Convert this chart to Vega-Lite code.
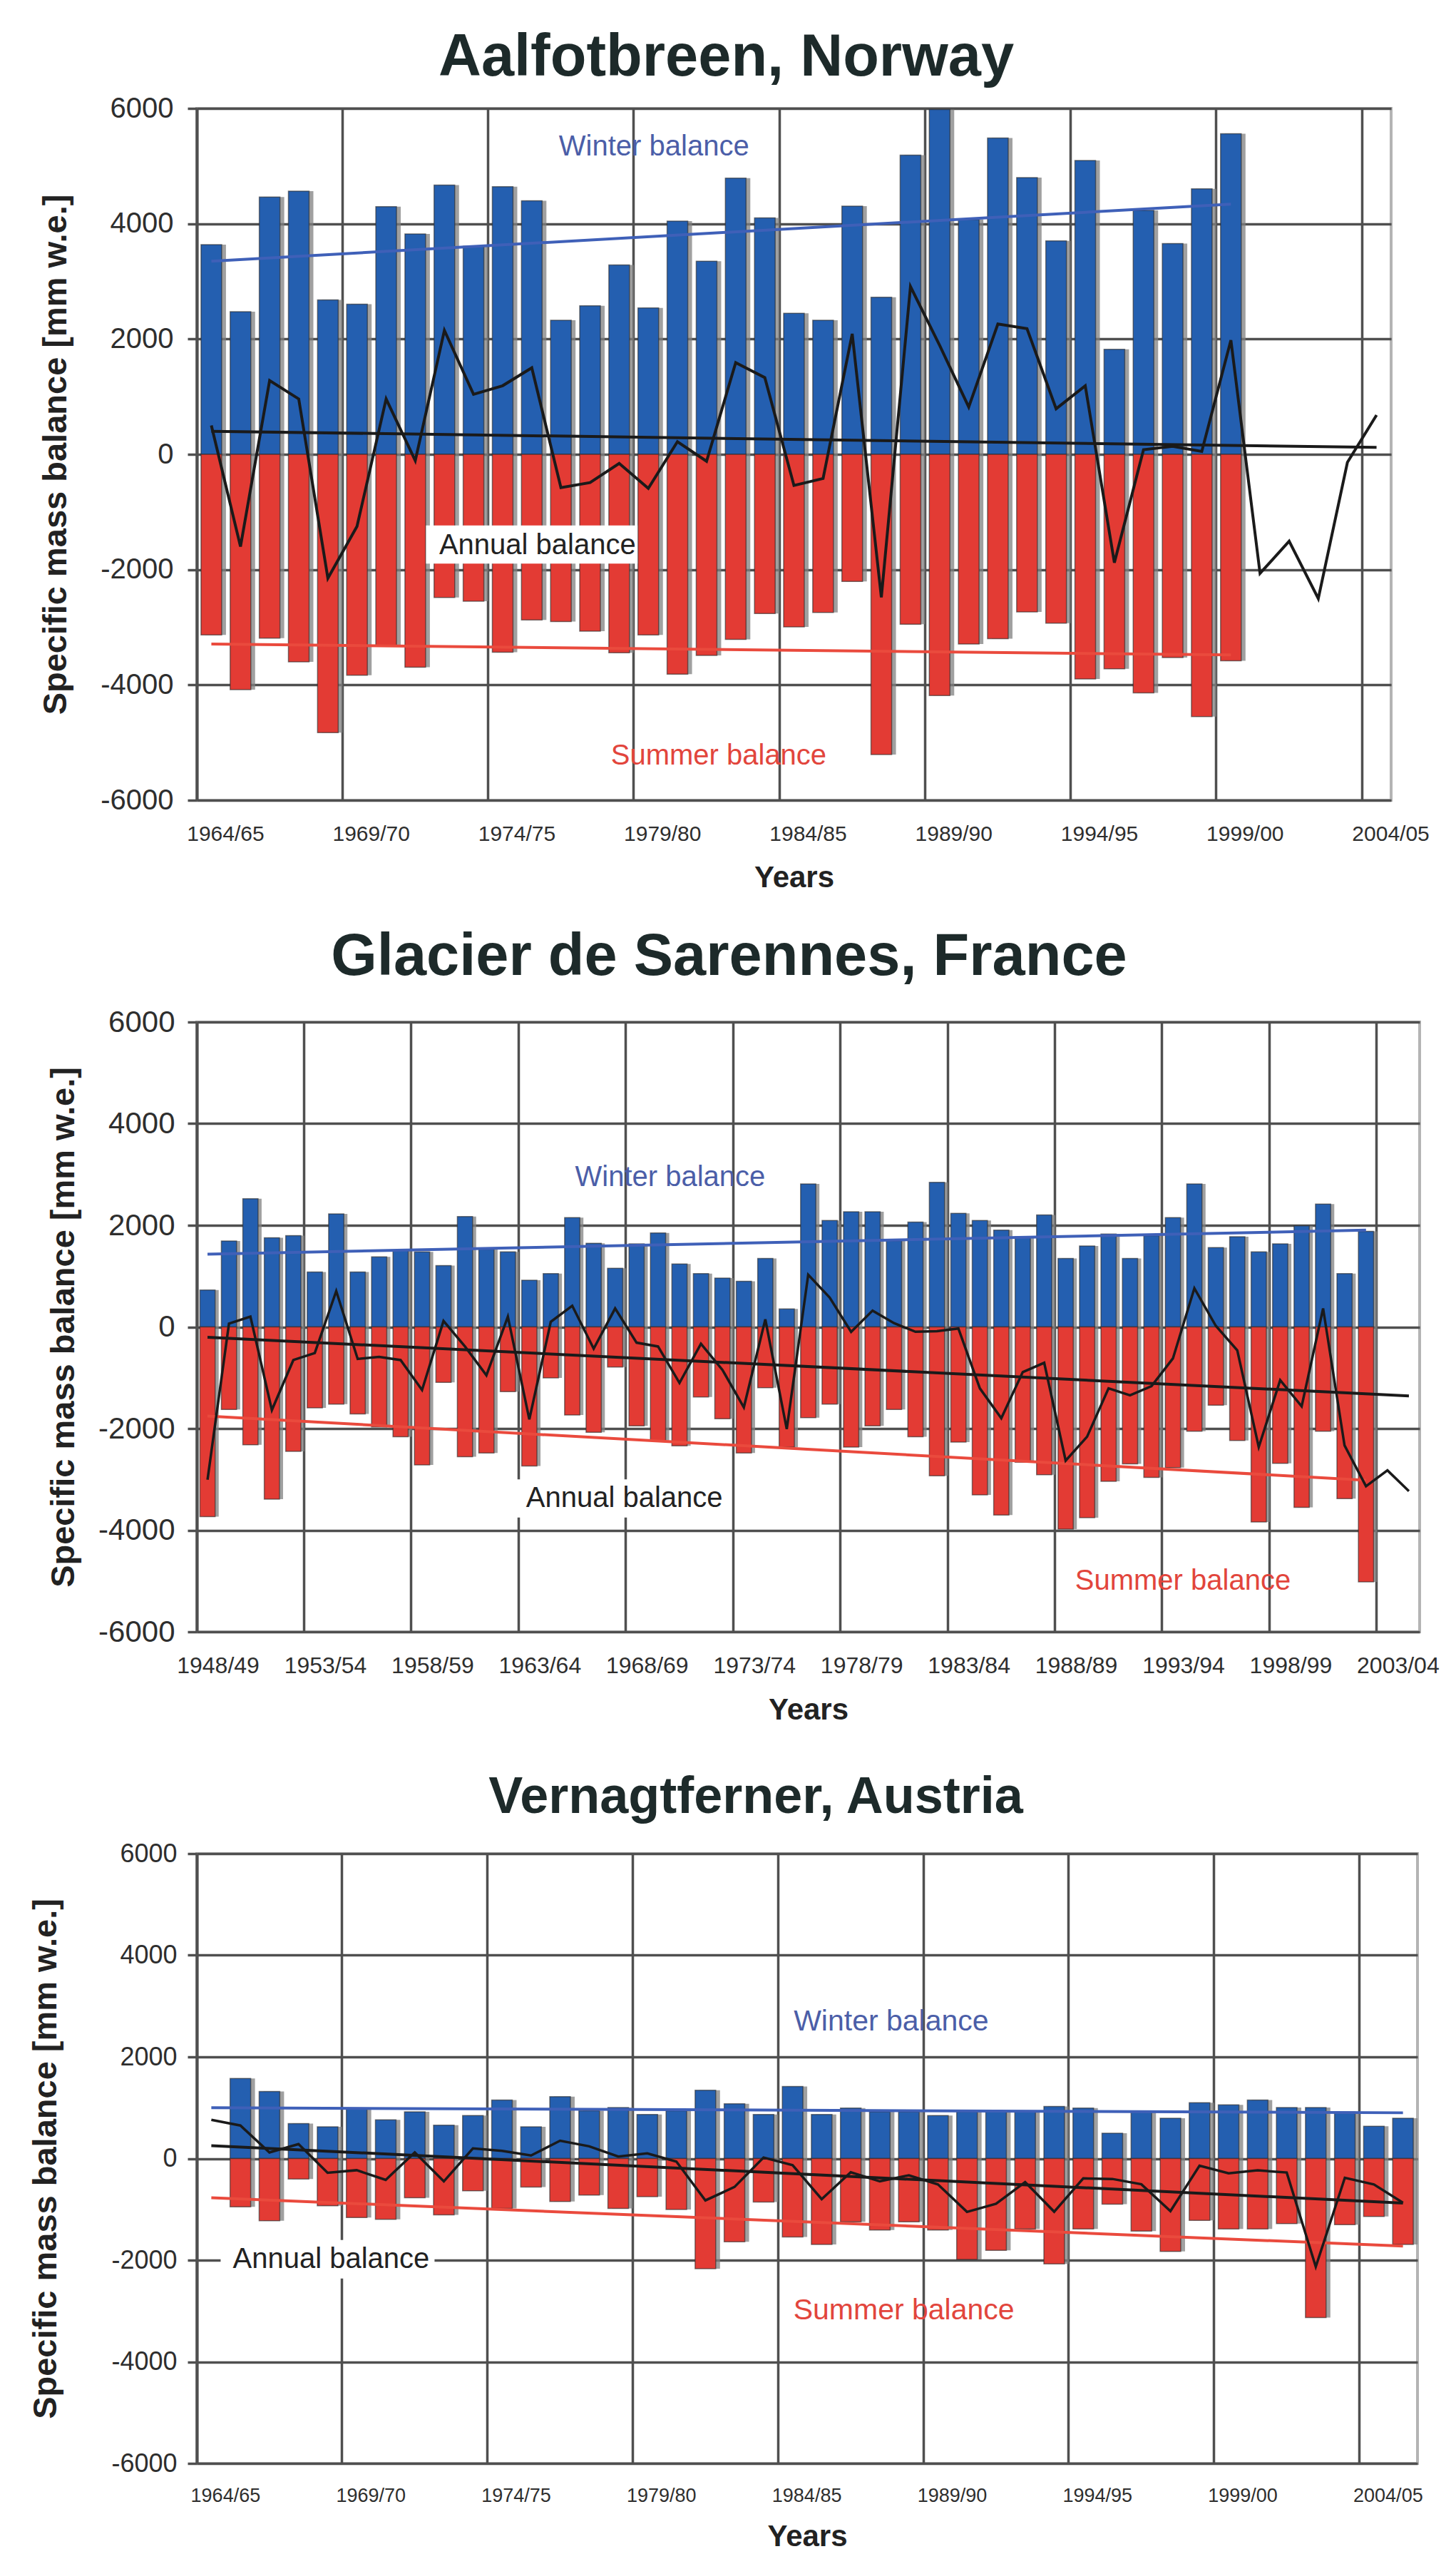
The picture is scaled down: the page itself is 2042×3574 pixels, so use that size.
{
"$schema": "https://vega.github.io/schema/vega-lite/v6.json",
"background": "white",
"padding": {"left": 38, "top": 38, "right": 10, "bottom": 0},
"bounds": "flush",
"spacing": 311,
"config": {
 "font": "Liberation Sans",
 "view": {"stroke": "#b4b4b4", "strokeWidth": 4},
 "axis": {"gridColor": "#4f4f4f", "gridWidth": 3.5, "gridOpacity": 1, "labelColor": "#2e2e2e", "titleColor": "#222222", "titleFontWeight": "bold", "domainColor": "#4f4f4f", "tickColor": "#4f4f4f"}
},
"datasets": {
 "aal": [
  {"y":"1964/65","w":3636,"s":-3134,"a":500},
  {"y":"1965/66","w":2474,"s":-4083,"a":-1600},
  {"y":"1966/67","w":4464,"s":-3190,"a":1280},
  {"y":"1967/68","w":4566,"s":-3600,"a":960},
  {"y":"1968/69","w":2678,"s":-4827,"a":-2150},
  {"y":"1969/70","w":2604,"s":-3832,"a":-1250},
  {"y":"1970/71","w":4297,"s":-3320,"a":960},
  {"y":"1971/72","w":3822,"s":-3692,"a":-110},
  {"y":"1972/73","w":4669,"s":-2483,"a":2150},
  {"y":"1973/74","w":3608,"s":-2548,"a":1040},
  {"y":"1974/75","w":4641,"s":-3432,"a":1190},
  {"y":"1975/76","w":4399,"s":-2874,"a":1500},
  {"y":"1976/77","w":2325,"s":-2902,"a":-577},
  {"y":"1977/78","w":2576,"s":-3069,"a":-490},
  {"y":"1978/79","w":3283,"s":-3441,"a":-158},
  {"y":"1979/80","w":2539,"s":-3134,"a":-590},
  {"y":"1980/81","w":4046,"s":-3813,"a":220},
  {"y":"1981/82","w":3348,"s":-3488,"a":-120},
  {"y":"1982/83","w":4790,"s":-3209,"a":1590},
  {"y":"1983/84","w":4101,"s":-2762,"a":1330},
  {"y":"1984/85","w":2446,"s":-2995,"a":-540},
  {"y":"1985/86","w":2325,"s":-2744,"a":-420},
  {"y":"1986/87","w":4306,"s":-2204,"a":2090},
  {"y":"1987/88","w":2725,"s":-5208,"a":-2480},
  {"y":"1988/89","w":5189,"s":-2948,"a":2910},
  {"y":"1989/90","w":5980,"s":-4185,"a":1890},
  {"y":"1990/91","w":4073,"s":-3292,"a":820},
  {"y":"1991/92","w":5487,"s":-3199,"a":2260},
  {"y":"1992/93","w":4799,"s":-2734,"a":2180},
  {"y":"1993/94","w":3701,"s":-2930,"a":790},
  {"y":"1994/95","w":5096,"s":-3897,"a":1190},
  {"y":"1995/96","w":1823,"s":-3720,"a":-1880},
  {"y":"1996/97","w":4232,"s":-4139,"a":80},
  {"y":"1997/98","w":3655,"s":-3525,"a":140},
  {"y":"1998/99","w":4604,"s":-4548,"a":50},
  {"y":"1999/00","w":5561,"s":-3581,"a":1980},
  {"y":"2000/01","a":-2065},
  {"y":"2001/02","a":-1507},
  {"y":"2002/03","a":-2502},
  {"y":"2003/04","a":-140},
  {"y":"2004/05","a":680}
 ],
 "aalT": [
  {"y":"1964/65","k":"w","v":3350},{"y":"1999/00","k":"w","v":4340},
  {"y":"1964/65","k":"s","v":-3290},{"y":"1999/00","k":"s","v":-3480},
  {"y":"1964/65","k":"a","v":400},{"y":"2004/05","k":"a","v":120}
 ],
 "sar": [
  {"y":"1948/49","w":727,"s":-3733,"a":-3006},
  {"y":"1949/50","w":1690,"s":-1626,"a":64},
  {"y":"1950/51","w":2524,"s":-2321,"a":203},
  {"y":"1951/52","w":1754,"s":-3390,"a":-1636},
  {"y":"1952/53","w":1797,"s":-2449,"a":-652},
  {"y":"1953/54","w":1080,"s":-1594,"a":-514},
  {"y":"1954/55","w":2225,"s":-1519,"a":706},
  {"y":"1955/56","w":1080,"s":-1711,"a":-631},
  {"y":"1956/57","w":1380,"s":-1968,"a":-588},
  {"y":"1957/58","w":1508,"s":-2160,"a":-652},
  {"y":"1958/59","w":1476,"s":-2717,"a":-1241},
  {"y":"1959/60","w":1208,"s":-1091,"a":117},
  {"y":"1960/61","w":2171,"s":-2556,"a":-385},
  {"y":"1961/62","w":1529,"s":-2481,"a":-952},
  {"y":"1962/63","w":1476,"s":-1273,"a":203},
  {"y":"1963/64","w":920,"s":-2738,"a":-1818},
  {"y":"1964/65","w":1048,"s":-1005,"a":100},
  {"y":"1965/66","w":2150,"s":-1733,"a":417},
  {"y":"1966/67","w":1647,"s":-2075,"a":-428},
  {"y":"1967/68","w":1155,"s":-791,"a":364},
  {"y":"1968/69","w":1636,"s":-1946,"a":-310},
  {"y":"1969/70","w":1850,"s":-2235,"a":-385},
  {"y":"1970/71","w":1240,"s":-2342,"a":-1102},
  {"y":"1971/72","w":1048,"s":-1380,"a":-332},
  {"y":"1972/73","w":963,"s":-1807,"a":-844},
  {"y":"1973/74","w":898,"s":-2481,"a":-1583},
  {"y":"1974/75","w":1348,"s":-1198,"a":150},
  {"y":"1975/76","w":353,"s":-2364,"a":-2011},
  {"y":"1976/77","w":2813,"s":-1786,"a":1027},
  {"y":"1977/78","w":2096,"s":-1519,"a":577},
  {"y":"1978/79","w":2267,"s":-2364,"a":-97},
  {"y":"1979/80","w":2267,"s":-1946,"a":321},
  {"y":"1980/81","w":1700,"s":-1626,"a":74},
  {"y":"1981/82","w":2064,"s":-2160,"a":-96},
  {"y":"1982/83","w":2845,"s":-2930,"a":-85},
  {"y":"1983/84","w":2235,"s":-2267,"a":-32},
  {"y":"1984/85","w":2096,"s":-3305,"a":-1209},
  {"y":"1985/86","w":1904,"s":-3700,"a":-1796},
  {"y":"1986/87","w":1775,"s":-2663,"a":-888},
  {"y":"1987/88","w":2203,"s":-2909,"a":-706},
  {"y":"1988/89","w":1348,"s":-3979,"a":-2631},
  {"y":"1989/90","w":1594,"s":-3754,"a":-2160},
  {"y":"1990/91","w":1829,"s":-3037,"a":-1208},
  {"y":"1991/92","w":1348,"s":-2695,"a":-1347},
  {"y":"1992/93","w":1797,"s":-2963,"a":-1166},
  {"y":"1993/94","w":2150,"s":-2770,"a":-620},
  {"y":"1994/95","w":2813,"s":-2053,"a":760},
  {"y":"1995/96","w":1561,"s":-1540,"a":21},
  {"y":"1996/97","w":1775,"s":-2235,"a":-460},
  {"y":"1997/98","w":1476,"s":-3840,"a":-2364},
  {"y":"1998/99","w":1636,"s":-2684,"a":-1048},
  {"y":"1999/00","w":1989,"s":-3551,"a":-1562},
  {"y":"2000/01","w":2417,"s":-2053,"a":364},
  {"y":"2001/02","w":1048,"s":-3380,"a":-2332},
  {"y":"2002/03","w":1882,"s":-5016,"a":-3134},
  {"y":"2003/04","a":-2823},
  {"y":"2004/05","a":-3230}
 ],
 "sarT": [
  {"y":"1948/49","k":"w","v":1433},{"y":"2002/03","k":"w","v":1904},
  {"y":"1948/49","k":"s","v":-1754},{"y":"2002/03","k":"s","v":-3016},
  {"y":"1948/49","k":"a","v":-203},{"y":"2004/05","k":"a","v":-1358}
 ],
 "ver": [
  {"y":"1964/65","a":761},
  {"y":"1965/66","w":1575,"s":-951,"a":650},
  {"y":"1966/67","w":1321,"s":-1226,"a":120},
  {"y":"1967/68","w":687,"s":-402,"a":285},
  {"y":"1968/69","w":624,"s":-930,"a":-280},
  {"y":"1969/70","w":973,"s":-1163,"a":-230},
  {"y":"1970/71","w":761,"s":-1195,"a":-420},
  {"y":"1971/72","w":920,"s":-772,"a":120},
  {"y":"1972/73","w":655,"s":-1110,"a":-450},
  {"y":"1973/74","w":846,"s":-634,"a":200},
  {"y":"1974/75","w":1152,"s":-983,"a":150},
  {"y":"1975/76","w":624,"s":-560,"a":60},
  {"y":"1976/77","w":1216,"s":-846,"a":350},
  {"y":"1977/78","w":941,"s":-719,"a":240},
  {"y":"1978/79","w":1004,"s":-983,"a":40},
  {"y":"1979/80","w":867,"s":-751,"a":100},
  {"y":"1980/81","w":941,"s":-1004,"a":-60},
  {"y":"1981/82","w":1343,"s":-2167,"a":-824},
  {"y":"1982/83","w":1078,"s":-1639,"a":-560},
  {"y":"1983/84","w":867,"s":-856,"a":20},
  {"y":"1984/85","w":1417,"s":-1543,"a":-130},
  {"y":"1985/86","w":867,"s":-1691,"a":-800},
  {"y":"1986/87","w":994,"s":-1247,"a":-270},
  {"y":"1987/88","w":920,"s":-1406,"a":-450},
  {"y":"1988/89","w":920,"s":-1247,"a":-330},
  {"y":"1989/90","w":846,"s":-1406,"a":-510},
  {"y":"1990/91","w":920,"s":-1987,"a":-1050},
  {"y":"1991/92","w":920,"s":-1808,"a":-890},
  {"y":"1992/93","w":920,"s":-1385,"a":-465},
  {"y":"1993/94","w":1025,"s":-2072,"a":-1047},
  {"y":"1994/95","w":994,"s":-1385,"a":-391},
  {"y":"1995/96","w":497,"s":-899,"a":-402},
  {"y":"1996/97","w":920,"s":-1427,"a":-507},
  {"y":"1997/98","w":793,"s":-1829,"a":-1036},
  {"y":"1998/99","w":1099,"s":-1216,"a":-140},
  {"y":"1999/00","w":1057,"s":-1385,"a":-290},
  {"y":"2000/01","w":1152,"s":-1385,"a":-233},
  {"y":"2001/02","w":1004,"s":-1279,"a":-275},
  {"y":"2002/03","w":1004,"s":-3129,"a":-2130},
  {"y":"2003/04","w":920,"s":-1300,"a":-380},
  {"y":"2004/05","w":634,"s":-1142,"a":-510},
  {"y":"2005/06","w":793,"s":-1691,"a":-870}
 ],
 "verT": [
  {"y":"1964/65","k":"w","v":1000},{"y":"2005/06","k":"w","v":900},
  {"y":"1964/65","k":"s","v":-772},{"y":"2005/06","k":"s","v":-1723},
  {"y":"1964/65","k":"a","v":254},{"y":"2005/06","k":"a","v":-877}
 ]
},
"vconcat": [
 {
  "title": {"text": "Aalfotbreen, Norway", "fontSize": 83, "fontWeight": "bold", "color": "#1d2a2a", "anchor": "middle", "baseline": "alphabetic", "offset": -57, "dx": -95},
  "width": 1675, "height": 970,
  "encoding": {"x": {"field": "y", "type": "ordinal", "scale": {"type": "band", "paddingInner": 0, "paddingOuter": 0},
    "axis": {"title": "Years", "values": ["1964/65","1969/70","1974/75","1979/80","1984/85","1989/90","1994/95","1999/00","2004/05"], "bandPosition": 0, "grid": true, "ticks": false, "domain": false, "labelAngle": 0, "labelOffset": 20, "labelFontSize": 30, "labelPadding": 32, "titleFontSize": 42, "titlePadding": 26}}},
  "layer": [
   {"data": {"name": "aal"}, "mark": {"type": "bar", "width": {"band": 0.71}, "fill": "#808080", "opacity": 0.75, "xOffset": 6},
    "encoding": {"y": {"field": "w", "type": "quantitative", "title": "Specific mass balance [mm w.e.]"}, "y2": {"field": "s"}}},
   {"data": {"name": "aal"}, "mark": {"type": "bar", "width": {"band": 0.71}, "fill": "#245fb0", "stroke": "#2b2b2b", "strokeWidth": 1.5, "strokeOpacity": 0.6},
    "encoding": {"y": {"field": "w", "type": "quantitative", "title": "Specific mass balance [mm w.e.]", "scale": {"domain": [-6000, 6000], "nice": false, "zero": false},
      "axis": {"values": [-6000,-4000,-2000,0,2000,4000,6000], "labelExpr": "'' + datum.value", "grid": true, "domain": true, "domainWidth": 4, "ticks": true, "tickSize": 13, "tickWidth": 3.5, "labelFontSize": 40, "labelPadding": 20, "titleFontSize": 47, "titlePadding": 38}}}},
   {"data": {"name": "aal"}, "mark": {"type": "bar", "width": {"band": 0.71}, "fill": "#e33b34", "stroke": "#2b2b2b", "strokeWidth": 1.5, "strokeOpacity": 0.6},
    "encoding": {"y": {"field": "s", "type": "quantitative", "title": "Specific mass balance [mm w.e.]"}}},
   {"data": {"name": "aalT"}, "mark": {"type": "line", "strokeWidth": 4},
    "encoding": {"y": {"field": "v", "type": "quantitative", "title": "Specific mass balance [mm w.e.]"}, "color": {"field": "k", "type": "nominal", "scale": {"domain": ["w","s","a"], "range": ["#3f60b8","#ea4a3d","#1a1a1a"]}, "legend": null}}},
   {"data": {"name": "aal"}, "mark": {"type": "line", "color": "#1a1a1a", "strokeWidth": 4},
    "encoding": {"y": {"field": "a", "type": "quantitative", "title": "Specific mass balance [mm w.e.]"}}},
   {"data": {"values": [{"y": "1975/76", "v": -1565}]}, "mark": {"type": "point", "shape": "M-1,-0.18L1,-0.18L1,0.18L-1,0.18Z", "size": 88000, "filled": true, "fill": "white", "opacity": 1, "strokeWidth": 0, "dx": 8},
    "encoding": {"y": {"field": "v", "type": "quantitative", "title": "Specific mass balance [mm w.e.]"}}},
   {"data": {"values": [{"y": "1979/80", "v": 5330, "t": "Winter balance"}]}, "mark": {"type": "text", "fontSize": 40, "color": "#4b5ea8", "dx": 8, "align": "center", "baseline": "middle"},
    "encoding": {"y": {"field": "v", "type": "quantitative", "title": "Specific mass balance [mm w.e.]"}, "text": {"field": "t"}}},
   {"data": {"values": [{"y": "1981/82", "v": -5235, "t": "Summer balance"}]}, "mark": {"type": "text", "fontSize": 40, "color": "#e2453c", "dx": 17, "align": "center", "baseline": "middle"},
    "encoding": {"y": {"field": "v", "type": "quantitative", "title": "Specific mass balance [mm w.e.]"}, "text": {"field": "t"}}},
   {"data": {"values": [{"y": "1975/76", "v": -1584, "t": "Annual balance"}]}, "mark": {"type": "text", "fontSize": 40, "color": "#222222", "dx": 8, "align": "center", "baseline": "middle"},
    "encoding": {"y": {"field": "v", "type": "quantitative", "title": "Specific mass balance [mm w.e.]"}, "text": {"field": "t"}}}
  ]
 },
 {
  "title": {"text": "Glacier de Sarennes, France", "fontSize": 83, "fontWeight": "bold", "color": "#1d2a2a", "anchor": "middle", "baseline": "alphabetic", "offset": -38, "dx": -111},
  "width": 1715, "height": 855,
  "encoding": {"x": {"field": "y", "type": "ordinal", "scale": {"type": "band", "paddingInner": 0, "paddingOuter": 0},
    "axis": {"title": "Years", "values": ["1948/49","1953/54","1958/59","1963/64","1968/69","1973/74","1978/79","1983/84","1988/89","1993/94","1998/99","2003/04"], "bandPosition": 0, "grid": true, "ticks": false, "domain": false, "labelAngle": 0, "labelOffset": 15, "labelFontSize": 32, "labelPadding": 32, "titleFontSize": 42, "titlePadding": 26}}},
  "layer": [
   {"data": {"name": "sar"}, "mark": {"type": "bar", "width": {"band": 0.71}, "fill": "#808080", "opacity": 0.75, "xOffset": 5},
    "encoding": {"y": {"field": "w", "type": "quantitative", "title": "Specific mass balance [mm w.e.]"}, "y2": {"field": "s"}}},
   {"data": {"name": "sar"}, "mark": {"type": "bar", "width": {"band": 0.71}, "fill": "#245fb0", "stroke": "#2b2b2b", "strokeWidth": 1.5, "strokeOpacity": 0.6},
    "encoding": {"y": {"field": "w", "type": "quantitative", "title": "Specific mass balance [mm w.e.]", "scale": {"domain": [-6000, 6000], "nice": false, "zero": false},
      "axis": {"values": [-6000,-4000,-2000,0,2000,4000,6000], "labelExpr": "'' + datum.value", "grid": true, "domain": true, "domainWidth": 4, "ticks": true, "tickSize": 13, "tickWidth": 3.5, "labelFontSize": 42, "labelPadding": 18, "titleFontSize": 47, "titlePadding": 24}}}},
   {"data": {"name": "sar"}, "mark": {"type": "bar", "width": {"band": 0.71}, "fill": "#e33b34", "stroke": "#2b2b2b", "strokeWidth": 1.5, "strokeOpacity": 0.6},
    "encoding": {"y": {"field": "s", "type": "quantitative", "title": "Specific mass balance [mm w.e.]"}}},
   {"data": {"name": "sarT"}, "mark": {"type": "line", "strokeWidth": 4},
    "encoding": {"y": {"field": "v", "type": "quantitative", "title": "Specific mass balance [mm w.e.]"}, "color": {"field": "k", "type": "nominal", "scale": {"domain": ["w","s","a"], "range": ["#3f60b8","#ea4a3d","#1a1a1a"]}, "legend": null}}},
   {"data": {"name": "sar"}, "mark": {"type": "line", "color": "#1a1a1a", "strokeWidth": 3.5},
    "encoding": {"y": {"field": "a", "type": "quantitative", "title": "Specific mass balance [mm w.e.]"}}},
   {"data": {"values": [{"y": "1967/68", "v": -3375}]}, "mark": {"type": "point", "shape": "M-1,-0.18L1,-0.18L1,0.18L-1,0.18Z", "size": 88000, "filled": true, "fill": "white", "opacity": 1, "strokeWidth": 0, "dx": 13},
    "encoding": {"y": {"field": "v", "type": "quantitative", "title": "Specific mass balance [mm w.e.]"}}},
   {"data": {"values": [{"y": "1969/70", "v": 2943, "t": "Winter balance"}]}, "mark": {"type": "text", "fontSize": 40, "color": "#4b5ea8", "dx": 17, "align": "center", "baseline": "middle"},
    "encoding": {"y": {"field": "v", "type": "quantitative", "title": "Specific mass balance [mm w.e.]"}, "text": {"field": "t"}}},
   {"data": {"values": [{"y": "1993/94", "v": -5007, "t": "Summer balance"}]}, "mark": {"type": "text", "fontSize": 40, "color": "#e2453c", "dx": 14, "align": "center", "baseline": "middle"},
    "encoding": {"y": {"field": "v", "type": "quantitative", "title": "Specific mass balance [mm w.e.]"}, "text": {"field": "t"}}},
   {"data": {"values": [{"y": "1967/68", "v": -3375, "t": "Annual balance"}]}, "mark": {"type": "text", "fontSize": 40, "color": "#222222", "dx": 13, "align": "center", "baseline": "middle"},
    "encoding": {"y": {"field": "v", "type": "quantitative", "title": "Specific mass balance [mm w.e.]"}, "text": {"field": "t"}}}
  ]
 },
 {
  "title": {"text": "Vernagtferner, Austria", "fontSize": 72, "fontWeight": "bold", "color": "#1d2a2a", "anchor": "middle", "baseline": "alphabetic", "offset": -33, "dx": -72},
  "width": 1712, "height": 855,
  "encoding": {"x": {"field": "y", "type": "ordinal", "scale": {"type": "band", "paddingInner": 0, "paddingOuter": 0},
    "axis": {"title": "Years", "values": ["1964/65","1969/70","1974/75","1979/80","1984/85","1989/90","1994/95","1999/00","2004/05"], "bandPosition": 0, "grid": true, "ticks": false, "domain": false, "labelAngle": 0, "labelOffset": 20, "labelFontSize": 27, "labelPadding": 32, "titleFontSize": 42, "titlePadding": 24}}},
  "layer": [
   {"data": {"name": "ver"}, "mark": {"type": "bar", "width": {"band": 0.71}, "fill": "#808080", "opacity": 0.75, "xOffset": 6},
    "encoding": {"y": {"field": "w", "type": "quantitative", "title": "Specific mass balance [mm w.e.]"}, "y2": {"field": "s"}}},
   {"data": {"name": "ver"}, "mark": {"type": "bar", "width": {"band": 0.71}, "fill": "#245fb0", "stroke": "#2b2b2b", "strokeWidth": 1.5, "strokeOpacity": 0.6},
    "encoding": {"y": {"field": "w", "type": "quantitative", "title": "Specific mass balance [mm w.e.]", "scale": {"domain": [-6000, 6000], "nice": false, "zero": false},
      "axis": {"values": [-6000,-4000,-2000,0,2000,4000,6000], "labelExpr": "'' + datum.value", "grid": true, "domain": true, "domainWidth": 4, "ticks": true, "tickSize": 13, "tickWidth": 3.5, "labelFontSize": 36, "labelPadding": 15, "titleFontSize": 47, "titlePadding": 67}}}},
   {"data": {"name": "ver"}, "mark": {"type": "bar", "width": {"band": 0.71}, "fill": "#e33b34", "stroke": "#2b2b2b", "strokeWidth": 1.5, "strokeOpacity": 0.6},
    "encoding": {"y": {"field": "s", "type": "quantitative", "title": "Specific mass balance [mm w.e.]"}}},
   {"data": {"name": "verT"}, "mark": {"type": "line", "strokeWidth": 4},
    "encoding": {"y": {"field": "v", "type": "quantitative", "title": "Specific mass balance [mm w.e.]"}, "color": {"field": "k", "type": "nominal", "scale": {"domain": ["w","s","a"], "range": ["#3f60b8","#ea4a3d","#1a1a1a"]}, "legend": null}}},
   {"data": {"name": "ver"}, "mark": {"type": "line", "color": "#1a1a1a", "strokeWidth": 3.5},
    "encoding": {"y": {"field": "a", "type": "quantitative", "title": "Specific mass balance [mm w.e.]"}}},
   {"data": {"values": [{"y": "1968/69", "v": -1982}]}, "mark": {"type": "point", "shape": "M-1,-0.18L1,-0.18L1,0.18L-1,0.18Z", "size": 90000, "filled": true, "fill": "white", "opacity": 1, "strokeWidth": 0, "dx": 5},
    "encoding": {"y": {"field": "v", "type": "quantitative", "title": "Specific mass balance [mm w.e.]"}}},
   {"data": {"values": [{"y": "1987/88", "v": 2686, "t": "Winter balance"}]}, "mark": {"type": "text", "fontSize": 41, "color": "#4b5ea8", "dx": 16, "align": "center", "baseline": "middle"},
    "encoding": {"y": {"field": "v", "type": "quantitative", "title": "Specific mass balance [mm w.e.]"}, "text": {"field": "t"}}},
   {"data": {"values": [{"y": "1988/89", "v": -2993, "t": "Summer balance"}]}, "mark": {"type": "text", "fontSize": 41, "color": "#e2453c", "dx": -7, "align": "center", "baseline": "middle"},
    "encoding": {"y": {"field": "v", "type": "quantitative", "title": "Specific mass balance [mm w.e.]"}, "text": {"field": "t"}}},
   {"data": {"values": [{"y": "1968/69", "v": -1982, "t": "Annual balance"}]}, "mark": {"type": "text", "fontSize": 40, "color": "#222222", "dx": 5, "align": "center", "baseline": "middle"},
    "encoding": {"y": {"field": "v", "type": "quantitative", "title": "Specific mass balance [mm w.e.]"}, "text": {"field": "t"}}}
  ]
 }
]
}
